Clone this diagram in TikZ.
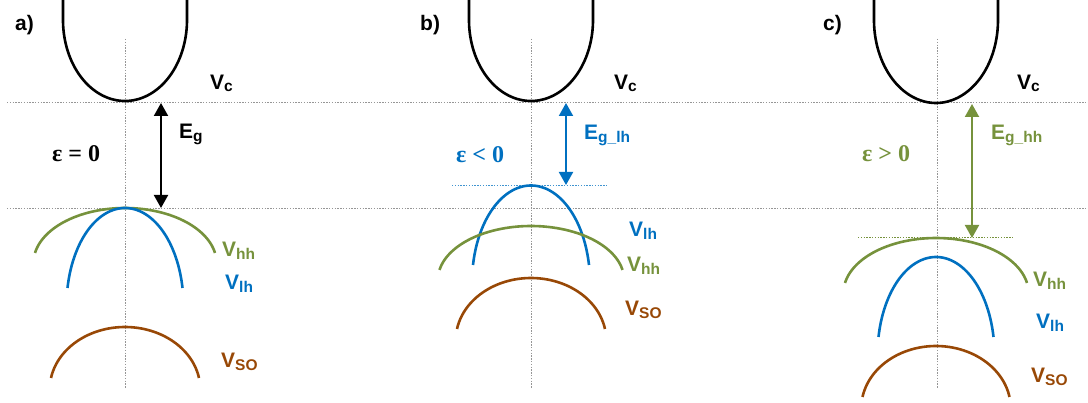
\documentclass[tikz,border=0pt]{standalone}
\usepackage{fontspec}
\setmainfont{Liberation Sans}
\newfontfamily\serifb{Liberation Serif}
\usetikzlibrary{arrows.meta}
\definecolor{cgreen}{RGB}{118,146,60}
\definecolor{cblue}{RGB}{0,112,192}
\definecolor{cbrown}{RGB}{152,72,6}
\definecolor{cgrid}{RGB}{150,150,150}
\newcommand{\Lab}[2]{\textbf{#1}\raisebox{-2.5pt}{\fontsize{15.5}{15.5}\selectfont\bfseries #2}}
\newcommand{\VArc}[5]{% color, cx, top y, half width, end y
  \pgfmathsetmacro{\dd}{#5-#3}%
  \pgfmathsetmacro{\ry}{1.22*\dd}%
  \pgfmathsetmacro{\rx}{#4/cos(10.4)}%
  \pgfmathsetmacro{\cy}{#3+\ry}%
  \draw[band,#1] plot[smooth,samples=70,domain=190.4:349.6,variable=\t] ({#2+\rx*cos(\t)},{\cy+\ry*sin(\t)});}
\newcommand{\CBand}[2]{% cx, bottom y
  \pgfmathsetmacro{\cry}{#2-20}%
  \draw[band,black] (#1-62,0) -- (#1-62,20) -- plot[smooth,samples=80,domain=180:0,variable=\t] ({#1+62*cos(\t)},{20+\cry*sin(\t)}) -- (#1+62,0);}
\begin{document}
\begin{tikzpicture}[x=1pt,y=-1pt,
  band/.style={line width=2.6pt},
  grid/.style={cgrid,line width=0.9pt,dash pattern=on 1.4pt off 1.4pt},
  cdot/.style={line width=1pt,dash pattern=on 1.4pt off 1.4pt},
  gap/.style={line width=2pt,{Triangle[width=14pt,length=13pt]}-{Triangle[width=14pt,length=13pt]}},
  lab/.style={font=\fontsize{21}{21}\selectfont\bfseries,anchor=base west,inner sep=0pt},
  eps/.style={font=\fontsize{24}{24}\selectfont\serifb\bfseries,anchor=base west,inner sep=0pt}]
\useasboundingbox (0,0) rectangle (1088,403);
% grid lines
\draw[grid] (7,102) -- (1088,102);
\draw[grid] (7,208) -- (1088,208);
\draw[grid] (125,39) -- (125,388);
\draw[grid] (531,39) -- (531,388);
\draw[grid] (937,39) -- (937,388);
% ---------- panel a
\node[lab] (pa) at (15,31) {a)};
\CBand{125}{101}
\VArc{cgreen}{125}{208}{90}{253}
\VArc{cblue}{125}{208}{57.5}{288}
\VArc{cbrown}{125}{327}{74}{378}
\coordinate (a1) at (161,103);
\coordinate (a2) at (161,208);
\draw[gap] (a1) -- (a2);
\node[lab] (vca) at (210,89.5) {\Lab{V}{c}};
\node[lab] (ega) at (179,139) {\Lab{E}{g}};
\node[eps] (epsa) at (52,162) {ε = 0};
\node[lab,cgreen] (vhha) at (222,257) {\Lab{V}{hh}};
\node[lab,cblue] (vlha) at (225,290) {\Lab{V}{lh}};
\node[lab,cbrown] (vsoa) at (221,368) {\Lab{V}{SO}};
% ---------- panel b
\node[lab] (pb) at (420,31) {b)};
\CBand{531}{101}
\coordinate (bl1) at (452,185.5);
\coordinate (bl2) at (608,185.5);
\draw[cdot,cblue!75] (bl1) -- (bl2);
\VArc{cblue}{531}{185.5}{58}{265}
\VArc{cgreen}{531}{226}{91.5}{270}
\VArc{cbrown}{531}{278}{74}{329}
\coordinate (b1) at (566,103);
\coordinate (b2) at (566,185);
\draw[gap,cblue] (b1) -- (b2);
\node[lab] (vcb) at (614,89.5) {\Lab{V}{c}};
\node[lab,cblue] (egb) at (584,140) {\Lab{E}{g\_lh}};
\node[eps,cblue] (epsb) at (456,163) {ε < 0};
\node[lab,cblue] (vlhb) at (629,237) {\Lab{V}{lh}};
\node[lab,cgreen] (vhhb) at (627,272) {\Lab{V}{hh}};
\node[lab,cbrown] (vsob) at (625,316) {\Lab{V}{SO}};
% ---------- panel c
\node[lab] (pc) at (823,31) {c)};
\CBand{936}{103}
\coordinate (cl1) at (858,238);
\coordinate (cl2) at (1013,238);
\draw[cdot,cgreen] (cl1) -- (cl2);
\VArc{cgreen}{936}{238}{91}{283}
\VArc{cblue}{936}{257}{57.5}{337}
\VArc{cbrown}{936}{346}{73.5}{397}
\coordinate (c1) at (972,104);
\coordinate (c2) at (972,238);
\draw[gap,cgreen] (c1) -- (c2);
\node[lab] (vcc) at (1017,89.5) {\Lab{V}{c}};
\node[lab,cgreen] (egc) at (991,140) {\Lab{E}{g\_hh}};
\node[eps,cgreen] (epsc) at (862,162) {ε > 0};
\node[lab,cgreen] (vhhc) at (1033,287) {\Lab{V}{hh}};
\node[lab,cblue] (vlhc) at (1036,329) {\Lab{V}{lh}};
\node[lab,cbrown] (vsoc) at (1031,383) {\Lab{V}{SO}};
\end{tikzpicture}
\end{document}
